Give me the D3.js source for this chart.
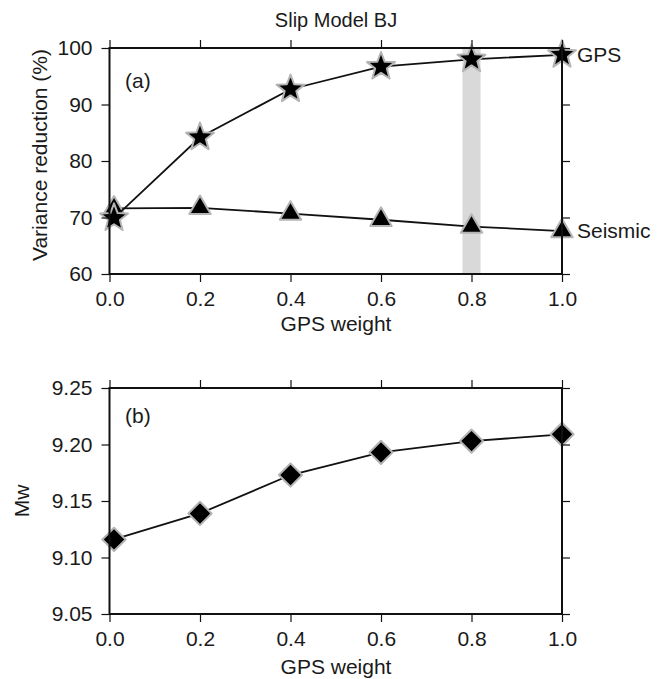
<!DOCTYPE html>
<html>
<head>
<meta charset="utf-8">
<script src="https://cdn.jsdelivr.net/npm/d3@7"></script>
<style>
  body { margin: 0; background: #fff; }
  svg { display: block; }
  text { font-family: "Liberation Sans", Arial, sans-serif; fill: #1a1a1a; }
</style>
</head>
<body>
<div id="chart"></div>
<script>
// data
var weights = [0.01, 0.2, 0.4, 0.6, 0.8, 1.0];
var gpsVR = [69.9, 84.2, 92.7, 96.7, 98.0, 98.8];
var seismicVR = [71.6, 71.7, 70.7, 69.6, 68.4, 67.6];
var mw = [9.116, 9.139, 9.173, 9.193, 9.203, 9.209];
var chosenWeight = [0.78, 0.82];
var xTicks = [0, 0.2, 0.4, 0.6, 0.8, 1.0];
var vrTicks = [60, 70, 80, 90, 100];
var mwTicks = [9.05, 9.10, 9.15, 9.20, 9.25];

var W = 658, H = 679;
var svg = d3.select("#chart").append("svg")
	.attr("width", W)
	.attr("height", H);
svg.append("rect").attr("width", W).attr("height", H).attr("fill", "#fff");

var x = d3.scaleLinear().domain([0, 1]).range([109.5, 562]);
var yA = d3.scaleLinear().domain([60, 100]).range([274, 48]);
var yB = d3.scaleLinear().domain([9.05, 9.25]).range([614, 388]);

var FS = 21;

//Five point star, R = sqrt(size)
var fatStar = {
	draw: function(ctx, size) {
		var R = Math.sqrt(size), r = R * 0.42;
		for (var i = 0; i < 10; i++) {
			var a = -Math.PI / 2 + i * Math.PI / 5, rr = i % 2 ? r : R;
			if (i === 0) ctx.moveTo(rr * Math.cos(a), rr * Math.sin(a));
			else ctx.lineTo(rr * Math.cos(a), rr * Math.sin(a));
		}
		ctx.closePath();
	}
};

//Draws frame with outward ticks on all four sides
function frame(g, y, yTicks, yFmt) {
	var top = y.range()[1], bot = y.range()[0];
	var axes = [
		[d3.axisBottom(x).tickValues(xTicks).tickFormat(d3.format(".1f")).tickPadding(9), bot, null],
		[d3.axisTop(x).tickValues(xTicks).tickFormat(""), top, null],
		[d3.axisLeft(y).tickValues(yTicks).tickFormat(d3.format(yFmt)).tickPadding(9), null, x.range()[0]],
		[d3.axisRight(y).tickValues(yTicks).tickFormat(""), null, x.range()[1]]
	];
	axes.forEach(function(a) {
		var ax = g.append("g")
			.attr("transform", a[1] !== null ? "translate(0," + a[1] + ")" : "translate(" + a[2] + ",0)")
			.call(a[0].tickSize(8).tickSizeOuter(0));
		ax.select(".domain").remove();
		ax.selectAll(".tick line").attr("stroke", "#111").attr("stroke-width", 1.2);
		ax.selectAll(".tick text").attr("font-size", FS).attr("fill", "#1a1a1a")
			.style("font-family", "'Liberation Sans', Arial, sans-serif");
	});
	g.append("rect")
		.attr("x", x.range()[0]).attr("y", top)
		.attr("width", x.range()[1] - x.range()[0]).attr("height", bot - top)
		.attr("fill", "none").attr("stroke", "#111").attr("stroke-width", 2);
}

function series(g, xs, ys, y, sym, size, rot) {
	var line = d3.line().x(function(d, i) { return x(xs[i]); }).y(function(d) { return y(d); });
	g.append("path").datum(ys)
		.attr("d", line)
		.attr("fill", "none").attr("stroke", "#111").attr("stroke-width", 1.8);
	g.selectAll(null).data(ys).enter().append("path")
		.attr("d", d3.symbol().type(sym).size(size))
		.attr("transform", function(d, i) { return "translate(" + x(xs[i]) + "," + y(d) + ") rotate(" + (rot || 0) + ")"; })
		.attr("fill", "#000")
		.attr("stroke", "#b4b4b4").attr("stroke-width", 2).attr("stroke-linejoin", "round");
}

// Panel (a)
var ga = svg.append("g");
ga.append("rect")
	.attr("x", x(chosenWeight[0])).attr("y", yA(100))
	.attr("width", x(chosenWeight[1]) - x(chosenWeight[0])).attr("height", yA(60) - yA(100))
	.attr("fill", "#d9d9d9");
series(ga, weights, seismicVR, yA, d3.symbolTriangle, 200);
series(ga, weights, gpsVR, yA, fatStar, 215);
frame(ga, yA, vrTicks, "d");

ga.append("text").attr("x", 336).attr("y", 27).attr("text-anchor", "middle")
	.attr("font-size", 20).text("Slip Model BJ");
ga.append("text").attr("x", 125).attr("y", 88).attr("font-size", FS).text("(a)");
ga.append("text").attr("x", 577).attr("y", yA(gpsVR[5]) + 7).attr("font-size", FS).text("GPS");
ga.append("text").attr("x", 577).attr("y", yA(seismicVR[5]) + 7).attr("font-size", FS).text("Seismic");
ga.append("text").attr("x", 336).attr("y", 331).attr("text-anchor", "middle")
	.attr("font-size", FS).text("GPS weight");
ga.append("text").attr("transform", "translate(47,155) rotate(-90)").attr("text-anchor", "middle")
	.attr("font-size", FS).text("Variance reduction (%)");

// Panel (b)
var gb = svg.append("g");
series(gb, weights, mw, yB, d3.symbolSquare, 270, 45);
frame(gb, yB, mwTicks, ".2f");

gb.append("text").attr("x", 125).attr("y", 423).attr("font-size", FS).text("(b)");
gb.append("text").attr("x", 336).attr("y", 674).attr("text-anchor", "middle")
	.attr("font-size", FS).text("GPS weight");
gb.append("text").attr("transform", "translate(29,501) rotate(-90)").attr("text-anchor", "middle")
	.attr("font-size", FS).text("Mw");
</script>
</body>
</html>
